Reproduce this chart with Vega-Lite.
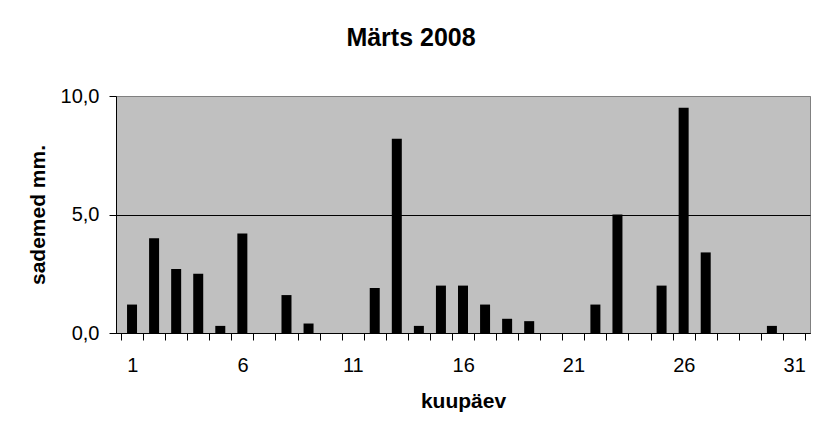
{
  "$schema": "https://vega.github.io/schema/vega-lite/v6.json",
  "width": 694,
  "height": 237,
  "autosize": {"type": "none"},
  "padding": {"left": 116, "top": 96, "right": 16, "bottom": 107},
  "background": "white",
  "config": {
    "font": "Liberation Sans",
    "view": {"fill": "#C0C0C0", "stroke": "#808080", "strokeWidth": 1}
  },
  "title": {
    "text": "Märts 2008",
    "fontSize": 25,
    "fontWeight": "bold",
    "font": "Liberation Sans",
    "color": "black",
    "anchor": "middle",
    "dx": -52,
    "offset": 35
  },
  "data": {
    "values": [
      {"day": 1, "mm": 1.2},
      {"day": 2, "mm": 4.0},
      {"day": 3, "mm": 2.7},
      {"day": 4, "mm": 2.5},
      {"day": 5, "mm": 0.3},
      {"day": 6, "mm": 4.2},
      {"day": 7, "mm": 0},
      {"day": 8, "mm": 1.6},
      {"day": 9, "mm": 0.4},
      {"day": 10, "mm": 0},
      {"day": 11, "mm": 0},
      {"day": 12, "mm": 1.9},
      {"day": 13, "mm": 8.2},
      {"day": 14, "mm": 0.3},
      {"day": 15, "mm": 2.0},
      {"day": 16, "mm": 2.0},
      {"day": 17, "mm": 1.2},
      {"day": 18, "mm": 0.6},
      {"day": 19, "mm": 0.5},
      {"day": 20, "mm": 0},
      {"day": 21, "mm": 0},
      {"day": 22, "mm": 1.2},
      {"day": 23, "mm": 5.0},
      {"day": 24, "mm": 0},
      {"day": 25, "mm": 2.0},
      {"day": 26, "mm": 9.5},
      {"day": 27, "mm": 3.4},
      {"day": 28, "mm": 0},
      {"day": 29, "mm": 0},
      {"day": 30, "mm": 0.3},
      {"day": 31, "mm": 0}
    ]
  },
  "mark": {"type": "bar", "color": "black", "width": 10},
  "encoding": {
    "x": {
      "field": "day",
      "type": "quantitative",
      "scale": {"domain": [0.5, 31.5], "nice": false, "zero": false},
      "axis": {
        "title": "kuupäev",
        "values": [0.5, 1.5, 2.5, 3.5, 4.5, 5.5, 6.5, 7.5, 8.5, 9.5, 10.5, 11.5, 12.5, 13.5, 14.5, 15.5, 16.5, 17.5, 18.5, 19.5, 20.5, 21.5, 22.5, 23.5, 24.5, 25.5, 26.5, 27.5, 28.5, 29.5, 30.5, 31.5],
        "labelExpr": "(datum.value - 0.5) % 5 == 0 && datum.value < 31 ? format(datum.value + 0.5, 'd') : ''",
        "labelOffset": 11.2,
        "grid": false,
        "domainColor": "black",
        "tickColor": "black",
        "tickSize": 7,
        "labelFontSize": 20,
        "labelColor": "black",
        "labelPadding": 15,
        "labelOverlap": false,
        "labelFlush": false,
        "labelBound": false,
        "titleFontSize": 21,
        "titleFontWeight": "bold",
        "titleColor": "black",
        "titlePadding": 15
      }
    },
    "y": {
      "field": "mm",
      "type": "quantitative",
      "scale": {"domain": [0, 10], "nice": false},
      "axis": {
        "title": "sademed mm.",
        "values": [0, 5, 10],
        "labelExpr": "replace(format(datum.value, '.1f'), '.', ',')",
        "grid": true,
        "gridColor": {"condition": {"test": "datum.value == 10", "value": "#808080"}, "value": "black"},
        "gridOpacity": 1,
        "domainColor": "black",
        "tickColor": "black",
        "tickSize": 7,
        "labelFontSize": 20,
        "labelColor": "black",
        "labelPadding": 10,
        "titleFontSize": 21,
        "titleFontWeight": "bold",
        "titleColor": "black",
        "titlePadding": 12
      }
    }
  }
}
